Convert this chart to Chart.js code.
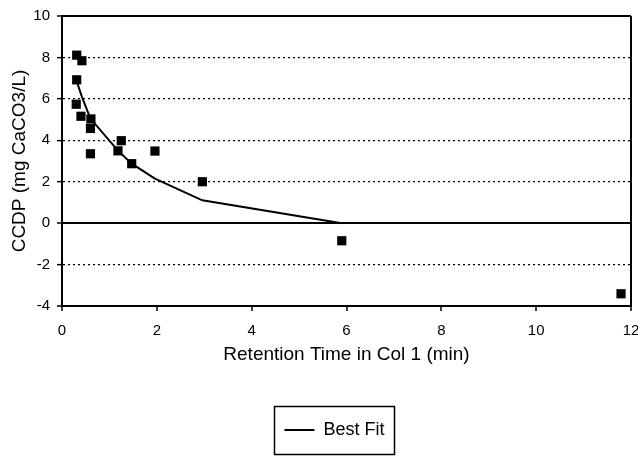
<!DOCTYPE html>
<html>
<head>
<meta charset="utf-8">
<script src="https://cdn.jsdelivr.net/npm/chart.js@4/dist/chart.umd.min.js"></script>
<style>
html,body{margin:0;padding:0;background:#fff;}
canvas{display:block;}
</style>
</head>
<body>
<canvas id="c" width="638" height="457"></canvas>
<script>
// Observed CCDP values
const obsX = [0.31, 0.42, 0.31, 0.30, 0.40, 0.61, 0.60, 0.60, 1.25, 1.18, 1.47, 1.96, 2.96, 5.90, 11.79];
const obsY = [8.11, 7.84, 6.92, 5.74, 5.16, 5.03, 4.57, 3.35, 3.98, 3.49, 2.87, 3.48, 2.00, -0.85, -3.41];
// Best fit curve
const fitX = [0.31, 0.42, 0.60, 1.18, 1.47, 1.96, 2.96, 5.90];
const fitY = [6.85, 6.10, 5.05, 3.50, 2.87, 2.15, 1.10, 0.00];
// Axis ranges / labels
const xRange = [0, 12, 2];
const yRange = [-4, 10, 2];
const dottedYTicks = [8, 6, 4, 2, -2];
const xTitle = 'Retention Time in Col 1 (min)';
const yTitle = 'CCDP (mg CaCO3/L)';
const fitLabel = 'Best Fit';

Chart.defaults.font.family = "'Liberation Sans', Arial, sans-serif";
Chart.defaults.color = '#000';

const legendFontSize = 18;

const legendFrame = {
  id: 'legendFrame',
  afterLayout(chart) {
    chart.legend.left += 31;
  },
  afterDraw(chart) {
    const lg = chart.legend;
    const ctx = chart.ctx;
    ctx.save();
    ctx.font = legendFontSize + "px 'Liberation Sans', Arial, sans-serif";
    const tw = ctx.measureText(fitLabel).width;
    const iw = 30 + legendFontSize / 2 + tw;
    const cx = (lg.left + lg.right) / 2;
    const cy = lg.top + lg.options.labels.padding + legendFontSize / 2;
    ctx.strokeStyle = '#000';
    ctx.lineWidth = 1.5;
    ctx.strokeRect(Math.round(cx - iw / 2 - 10) + 0.5, Math.round(cy - 24) + 0.5, Math.round(iw + 20), 48);
    ctx.restore();
  }
};

new Chart(document.getElementById('c'), {
  type: 'scatter',
  data: {
    datasets: [
      {
        type: 'line',
        label: fitLabel,
        data: fitX.map((x, i) => ({x, y: fitY[i]})),
        borderColor: '#000',
        backgroundColor: '#000',
        borderWidth: 2,
        pointRadius: 0,
        tension: 0,
        fill: false
      },
      {
        label: 'Observed',
        data: obsX.map((x, i) => ({x, y: obsY[i]})),
        pointStyle: 'rect',
        pointRadius: 6.5,
        backgroundColor: '#000',
        borderColor: '#000',
        borderWidth: 0
      }
    ]
  },
  options: {
    responsive: false,
    animation: false,
    devicePixelRatio: 1,
    layout: {padding: {left: 0, right: 0, top: 15, bottom: 8}},
    plugins: {
      tooltip: {enabled: false},
      legend: {
        position: 'bottom',
        labels: {
          filter: (item) => item.datasetIndex === 0,
          usePointStyle: true,
          pointStyle: 'line',
          pointStyleWidth: 30,
          padding: 50,
          color: '#000',
          font: {size: legendFontSize}
        }
      }
    },
    scales: {
      x: {
        type: 'linear',
        min: xRange[0], max: xRange[1],
        afterFit: (s) => { s.height = 65; s.paddingRight = 7; },
        ticks: {stepSize: xRange[2], font: {size: 15}, color: '#000', padding: 11},
        title: {display: true, text: xTitle, font: {size: 19}, color: '#000', padding: {top: 0, bottom: 5}},
        grid: {
          color: (c) => (c.tick && c.tick.value === xRange[1]) ? '#000' : 'rgba(0,0,0,0)',
          lineWidth: 2,
          tickColor: '#000',
          tickLength: 5,
          tickWidth: 1.5
        },
        border: {color: '#000', width: 2}
      },
      y: {
        type: 'linear',
        min: yRange[0], max: yRange[1],
        afterFit: (s) => { s.width = 62; },
        ticks: {stepSize: yRange[2], font: {size: 15}, color: '#000', padding: 7},
        title: {display: true, text: yTitle, font: {size: 19}, color: '#000', padding: {top: 8, bottom: 0}},
        grid: {
          color: '#000',
          lineWidth: (c) => (c.tick && dottedYTicks.includes(c.tick.value)) ? 1.3 : 2,
          tickColor: '#000',
          tickLength: 5,
          tickWidth: 1.5
        },
        border: {
          color: '#000', width: 2,
          dash: (c) => (c.tick && dottedYTicks.includes(c.tick.value)) ? [2, 3] : []
        }
      }
    }
  },
  plugins: [legendFrame]
});
</script>
</body>
</html>
